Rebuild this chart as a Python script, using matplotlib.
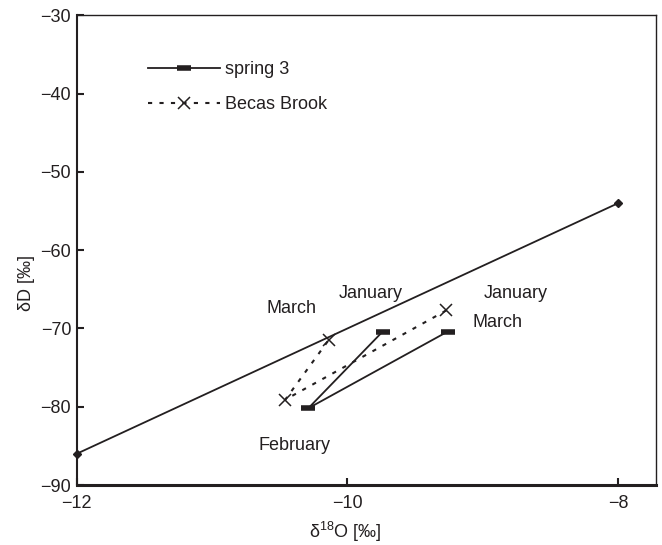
import matplotlib
matplotlib.use("Agg")
import matplotlib.pyplot as plt

plt.rcParams['font.family'] = ['Liberation Sans', 'DejaVu Sans']
plt.rcParams['font.size'] = 13
plt.rcParams['axes.unicode_minus'] = True
plt.rcParams['mathtext.fontset'] = 'custom'
plt.rcParams['mathtext.rm'] = 'Liberation Sans'
plt.rcParams['mathtext.it'] = 'Liberation Sans'

ink = '#231f20'

# meteoric water line end points
gmwl_o = [-12.0, -8.0]
gmwl_d = [-86.0, -54.0]

# spring 3 : January, February, March
spring_o = [-9.74, -10.29, -9.26]
spring_d = [-70.4, -80.2, -70.4]

# Becas Brook : January, February, March
becas_o = [-9.27, -10.46, -10.14]
becas_d = [-67.7, -79.1, -71.5]

# month labels (text, x, y)
month_txt = ['March', 'January', 'January', 'March', 'February']
month_x = [-10.41, -9.83, -8.76, -8.89, -10.39]
month_y = [-67.5, -65.5, -65.5, -69.3, -85.0]

fig = plt.figure(figsize=(6.62, 5.45), dpi=100)
ax = fig.add_axes([0.116, 0.110, 0.875, 0.862])

ax.plot(gmwl_o, gmwl_d, color=ink, lw=1.3, marker='D', markersize=4,
        markerfacecolor=ink, markeredgecolor=ink, clip_on=False, zorder=3)

ax.plot(spring_o, spring_d, color=ink, lw=1.3, marker='_', markersize=10,
        markeredgewidth=4, label='spring 3')
ax.plot(becas_o, becas_d, color=ink, lw=1.5, dashes=(2, 3.5), marker='x',
        markersize=9, markeredgewidth=1.1, label='Becas Brook')

for t, x, y in zip(month_txt, month_x, month_y):
    ax.text(x, y, t, ha='center', va='center', color=ink)

ax.set_xlim(-12, -7.72)
ax.set_ylim(-90, -30)
ax.set_xticks([-12, -10, -8])
ax.set_yticks([-90, -80, -70, -60, -50, -40, -30])
ax.tick_params(direction='in', length=5, width=1.5, colors=ink,
               labelcolor=ink, pad=4, top=False, right=False)
ax.tick_params(axis='x', pad=7)

for side in ['top', 'right']:
    ax.spines[side].set_linewidth(1.0)
    ax.spines[side].set_color(ink)
ax.spines['left'].set_linewidth(1.5)
ax.spines['left'].set_color(ink)
ax.spines['bottom'].set_linewidth(2.2)
ax.spines['bottom'].set_color(ink)

ax.set_xlabel('δ$^{18}$O [‰]', color=ink)
ax.set_ylabel('δD [‰]', color=ink)
ax.xaxis.set_label_coords(0.463, -0.075)
ax.yaxis.set_label_coords(-0.073, 0.43)

leg = ax.legend(loc='upper left', bbox_to_anchor=(0.11, 0.918), frameon=False,
                handlelength=4.0, handletextpad=0.3, labelspacing=1.0,
                borderaxespad=0)
for t in leg.get_texts():
    t.set_color(ink)

fig.savefig('out.png', dpi=100)
